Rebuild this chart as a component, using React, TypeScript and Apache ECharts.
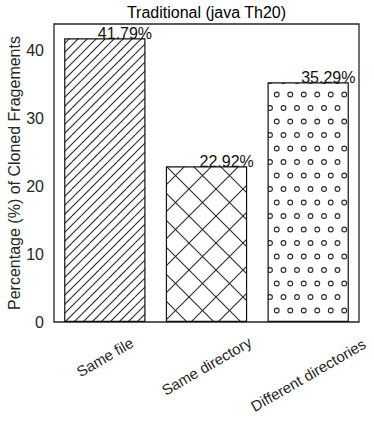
import React, { useEffect, useRef } from 'react';
import * as echarts from 'echarts';

const categories = ['Same file', 'Same directory', 'Different directories'];
const percentages = [41.79, 22.92, 35.29];
const valueLabels = ['41.79%', '22.92%', '35.29%'];
const yTicks = [0, 10, 20, 30, 40];
const yMax = 43.88;
const titleText = 'Traditional (java Th20)';
const yAxisName = 'Percentage (%) of Cloned Fragements';
const hatchKinds = ['diag', 'cross', 'circles'];

// per-label shifts (layout only): extra downward shift of the rotated label centre
const labelShift = [0, 9, 18];

const FONT = '"Liberation Sans", Arial, sans-serif';
const INK = '#262626';

function makeTile(kind: string) {
  const c = document.createElement('canvas');
  let w = 27, h = 27;
  c.width = w; c.height = h;
  const ctx = c.getContext('2d')!;
  ctx.fillStyle = '#ffffff';
  ctx.fillRect(0, 0, w, h);
  ctx.strokeStyle = '#2a2a2a';
  ctx.lineWidth = 1.1;
  if (kind === 'diag') {
    const p = 9;
    for (let k = -h; k <= w + h; k += p) {
      ctx.beginPath();
      ctx.moveTo(k, h);
      ctx.lineTo(k + h, 0);
      ctx.stroke();
    }
  } else if (kind === 'cross') {
    for (let k = -w; k <= w; k += w) {
      ctx.beginPath();
      ctx.moveTo(k, h);
      ctx.lineTo(k + h, 0);
      ctx.stroke();
      ctx.beginPath();
      ctx.moveTo(k, 0);
      ctx.lineTo(k + h, h);
      ctx.stroke();
    }
  } else {
    const s = 13.5;
    const r = 2.4;
    for (let row = -1; row <= 2; row++) {
      const y = row * s;
      const off = (row % 2 !== 0) ? s / 2 : 0;
      for (let col = -1; col <= 2; col++) {
        const x = col * s + off;
        ctx.beginPath();
        ctx.arc(x, y, r, 0, Math.PI * 2);
        ctx.stroke();
      }
    }
  }
  return { image: c, repeat: 'repeat', imageWidth: w, imageHeight: h } as any;
}

export default function App() {
  const ref = useRef<HTMLDivElement>(null);
  useEffect(() => {
    if (!ref.current) return;
    const chart = echarts.init(ref.current, undefined, { renderer: 'svg' });
    const gridLeft = 54, gridRight = 15, gridTop = 24, gridBottom = 106;
    const plotCenter = gridLeft + (374 - gridLeft - gridRight) / 2;
    const rich: Record<string, any> = {
      t: { fontFamily: FONT, fontSize: 15, color: INK },
    };
    labelShift.forEach((d, i) => {
      rich['g' + i] = { fontSize: 1, lineHeight: Math.max(1, d * 1.732) };
    });
    chart.setOption({
      animation: false,
      backgroundColor: '#ffffff',
      title: {
        text: titleText,
        left: plotCenter,
        textAlign: 'center',
        top: 4,
        padding: 0,
        textStyle: { fontFamily: FONT, fontSize: 16, fontWeight: 'normal', color: '#000' },
      },
      grid: {
        left: gridLeft, right: gridRight, top: gridTop, bottom: gridBottom,
        show: true, borderColor: INK, borderWidth: 1.3, backgroundColor: 'transparent',
        containLabel: false,
        outerBoundsMode: 'none',
      },
      xAxis: {
        type: 'category',
        data: categories.map((c, i) => ({
          value: c,
          textStyle: {
            align: 'center',
            verticalAlign: 'middle',
            padding: [0, labelShift[i], 0, 0],
          },
        })),
        axisLine: { show: false },
        axisTick: { show: false },
        axisLabel: {
          interval: 0,
          rotate: 30,
          align: 'center',
          verticalAlign: 'middle',
          margin: 35,
          fontFamily: FONT,
          fontSize: 15,
          color: INK,
          hideOverlap: false,
          formatter: (val: string, idx: number) =>
            labelShift[idx] > 0 ? `{g${idx}| }\n{t|${val}}` : `{t|${val}}`,
          rich,
        },
      },
      yAxis: {
        type: 'value',
        min: 0,
        max: yMax,
        interval: 10,
        name: yAxisName,
        nameLocation: 'middle',
        nameRotate: 90,
        nameGap: 40,
        nameMoveOverlap: false,
        nameTextStyle: { fontFamily: FONT, fontSize: 16, color: INK, verticalAlign: 'middle' },
        axisLine: { show: false },
        axisTick: { show: false },
        splitLine: { show: false },
        axisLabel: {
          fontFamily: FONT,
          fontSize: 16,
          color: INK,
          margin: 10,
          showMaxLabel: false,
          formatter: (v: number) => (yTicks.includes(v) ? String(v) : ''),
        },
      },
      series: [
        {
          type: 'bar',
          barWidth: '80%',
          data: percentages.map((v, i) => ({
            value: v,
            itemStyle: {
              color: makeTile(hatchKinds[i]),
              borderColor: '#111',
              borderWidth: 1.2,
            },
          })),
          label: {
            show: true,
            position: 'top',
            distance: 0,
            align: 'left',
            verticalAlign: 'bottom',
            offset: [-7, 3],
            fontFamily: FONT,
            fontSize: 16,
            color: '#111',
            formatter: (p: any) => valueLabels[p.dataIndex],
          },
        },
      ],
    });
    return () => chart.dispose();
  }, []);
  return <div ref={ref} style={{ width: 374, height: 428, position: 'absolute', left: 0, top: 0 }} />;
}
